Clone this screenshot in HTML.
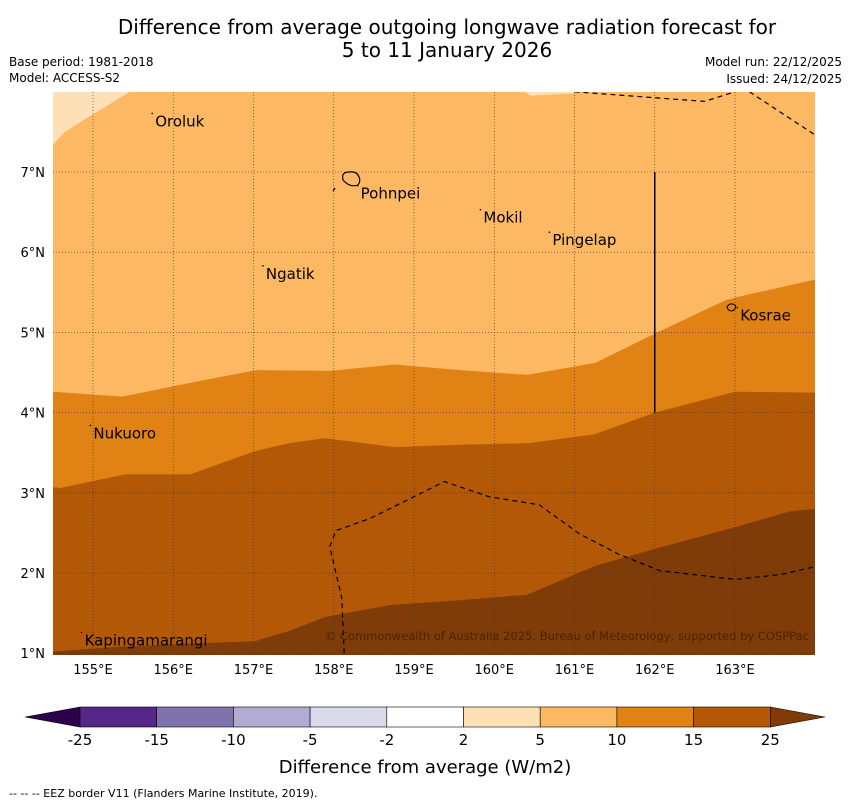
<!DOCTYPE html>
<html><head><meta charset="utf-8"><style>
body{margin:0;background:#fff;width:850px;height:804px;overflow:hidden;font-family:"DejaVu Sans","Liberation Sans",sans-serif}
svg text{font-family:"DejaVu Sans","Liberation Sans",sans-serif}
</style></head><body>
<svg id="s" width="850" height="804" xmlns="http://www.w3.org/2000/svg">
<text x="447" y="34" font-size="20" text-anchor="middle">Difference from average outgoing longwave radiation forecast for</text>
<text x="447" y="57" font-size="20" text-anchor="middle">5 to 11 January 2026</text>
<text x="9" y="66" font-size="12">Base period: 1981-2018</text>
<text x="9" y="82" font-size="12">Model: ACCESS-S2</text>
<text x="842" y="66" font-size="12" text-anchor="end">Model run: 22/12/2025</text>
<text x="842" y="83" font-size="12" text-anchor="end">Issued: 24/12/2025</text>
<defs><clipPath id="c"><rect x="53" y="92" width="762" height="563"/></clipPath></defs>
<g id="map" clip-path="url(#c)"></g>
<g id="ax"></g>
<g id="cb"></g>
<text x="425" y="773" font-size="18" text-anchor="middle">Difference from average (W/m2)</text>
<text x="9" y="797" font-size="11">--  --  -- EEZ border V11 (Flanders Marine Institute, 2019).</text>
</svg>
<script>
const lonTicks=[155,156,157,158,159,160,161,162,163];
const latTicks=[1,2,3,4,5,6,7];
const levels=[-25,-15,-10,-5,-2,2,5,10,15,25];
const colors=["#542788","#8073ac","#b2abd2","#d8daeb","#ffffff","#fee0b6","#fdb863","#e08214","#b35806"];
// contour boundaries as [lon,lat]
const edge2to5=[[154.5,7.34],[154.65,7.5],[155,7.72],[155.46,8]];
const edge5to10=[[154.5,4.26],[155.37,4.2],[156.21,4.37],[157.04,4.53],[157.95,4.52],[158.76,4.6],[159.57,4.53],[160.41,4.47],[161.26,4.62],[162.01,4.99],[162.88,5.4],[163.07,5.45],[164,5.66]];
const edge10to15=[[154.5,3.07],[154.59,3.06],[155.4,3.23],[156.21,3.23],[157.02,3.52],[157.45,3.62],[157.89,3.68],[158.76,3.57],[159.57,3.6],[160.44,3.62],[161.25,3.73],[162.0,4.0],[163.0,4.26],[164,4.25]];
const edge15to25=[[154.5,1.02],[155.33,1.08],[156.21,1.12],[157.02,1.15],[157.45,1.28],[157.89,1.45],[158.7,1.6],[159.57,1.66],[160.41,1.73],[161.26,2.09],[162.0,2.3],[163.0,2.57],[163.69,2.77],[164,2.8]];
const eezTop1=[[161.0,8],[162.62,7.88],[163.0,8]];
const eezTop2=[[163.18,8],[164,7.46]];
const eezBottom=[[158.13,1],[158.1,1.69],[157.95,2.33],[158.03,2.53],[158.45,2.68],[159.38,3.14],[159.94,2.95],[160.56,2.85],[161.06,2.49],[161.56,2.23],[162.06,2.03],[163.0,1.92],[163.57,1.98],[164,2.08]];
const islands=[["Oroluk",155.75,7.63],["Pohnpei",158.31,6.73],["Mokil",159.84,6.43],["Pingelap",160.7,6.15],["Ngatik",157.13,5.73],["Kosrae",163.04,5.21],["Nukuoro",154.98,3.74],["Kapingamarangi",154.87,1.16]];
const X=l=>93+(l-155)*80.25, Y=t=>172+(7-t)*80.2;
const NS="http://www.w3.org/2000/svg";
function mk(p,tag,a){const e=document.createElementNS(NS,tag);for(const k in a)e.setAttribute(k,a[k]);p.appendChild(e);return e;}
const map=document.getElementById('map');
const pts=a=>a.map(p=>X(p[0]).toFixed(1)+','+Y(p[1]).toFixed(1)).join(' ');
let r=mk(map,'rect',{x:53,y:92,width:762,height:563,fill:colors[6]});

let p=mk(map,'polygon',{points:pts([[154.5,8],...edge2to5]),fill:colors[5]});

p=mk(map,'polygon',{points:pts([[160.38,8],[160.45,7.95],[161,7.98],[161,8]]),fill:colors[5]});

p=mk(map,'polygon',{points:pts([...edge5to10,[164,0.9],[154.5,0.9]]),fill:colors[7]});

p=mk(map,'polygon',{points:pts([...edge10to15,[164,0.9],[154.5,0.9]]),fill:colors[8]});

p=mk(map,'polygon',{points:pts([...edge15to25,[164,0.9],[154.5,0.9]]),fill:"#7f3b08"});

lonTicks.forEach(l=>{const g=mk(map,'line',{x1:X(l),x2:X(l),y1:92,y2:655,stroke:'#333',"stroke-width":0.6,"stroke-dasharray":"1,2"});
});
latTicks.forEach(t=>{const g=mk(map,'line',{x1:53,x2:815,y1:Y(t),y2:Y(t),stroke:'#333',"stroke-width":0.6,"stroke-dasharray":"1,2"});
});
[eezTop1,eezTop2,eezBottom].forEach(a=>{const e=mk(map,'polyline',{points:pts(a),fill:'none',stroke:'#000',"stroke-width":1.2,"stroke-dasharray":"5,4"});
});
let v=mk(map,'line',{x1:X(162),x2:X(162),y1:Y(7),y2:Y(4),stroke:'#000',"stroke-width":1.5});

let pi=mk(map,'path',{d:'M343,180 q-2,-8 6,-8 q8,-1 10,5 q2,4 -1,8 q-8,3 -15,-5z',fill:'none',stroke:'#000',"stroke-width":1.2});

let pd=mk(map,'line',{x1:333,y1:191,x2:335,y2:188,stroke:'#000',"stroke-width":1.2});

let ko=mk(map,'path',{d:'M727,307 q3,-5 8,-2 q2,4 -3,6 q-4,0 -5,-4z',fill:'none',stroke:'#000',"stroke-width":1});

islands.forEach(d=>{const t=mk(map,'text',{x:X(d[1])+2,y:Y(d[2])+5,"font-size":15});t.textContent=d[0];

const dt=mk(map,'circle',{cx:X(d[1])-1,cy:Y(d[2])-8,r:0.8,fill:'#000'});
});
let cr=mk(map,'text',{x:809,y:640,"font-size":11.5,"text-anchor":"end",fill:'#4a2400'});
cr.textContent='© Commonwealth of Australia 2025, Bureau of Meteorology, supported by COSPPac';

const ax=document.getElementById('ax');
lonTicks.forEach(l=>{const t=mk(ax,'text',{x:X(l),y:674,"font-size":13,"text-anchor":"middle"});t.textContent=l+'°E';
});
latTicks.forEach(l=>{const t=mk(ax,'text',{x:45,y:Y(l)+5,"font-size":13,"text-anchor":"end"});t.textContent=l+'°N';
});
const cb=document.getElementById('cb');
const cx0=80,cw=76.7,cy=707,ch=20;
let tl=mk(cb,'polygon',{points:`${cx0},${cy} 25,${cy+ch/2} ${cx0},${cy+ch}`,fill:'#2d004b',stroke:'#000',"stroke-width":0.6});

colors.forEach((c,i)=>{const e=mk(cb,'rect',{x:cx0+i*cw,y:cy,width:cw,height:ch,fill:c,stroke:'#000',"stroke-width":0.6});
});
const xe=cx0+colors.length*cw;
let tr=mk(cb,'polygon',{points:`${xe},${cy} 825,${cy+ch/2} ${xe},${cy+ch}`,fill:'#7f3b08',stroke:'#000',"stroke-width":0.6});

levels.forEach((l,i)=>{const t=mk(cb,'text',{x:cx0+i*cw,y:745,"font-size":15,"text-anchor":"middle"});t.textContent=l;
});
</script>
</body></html>
